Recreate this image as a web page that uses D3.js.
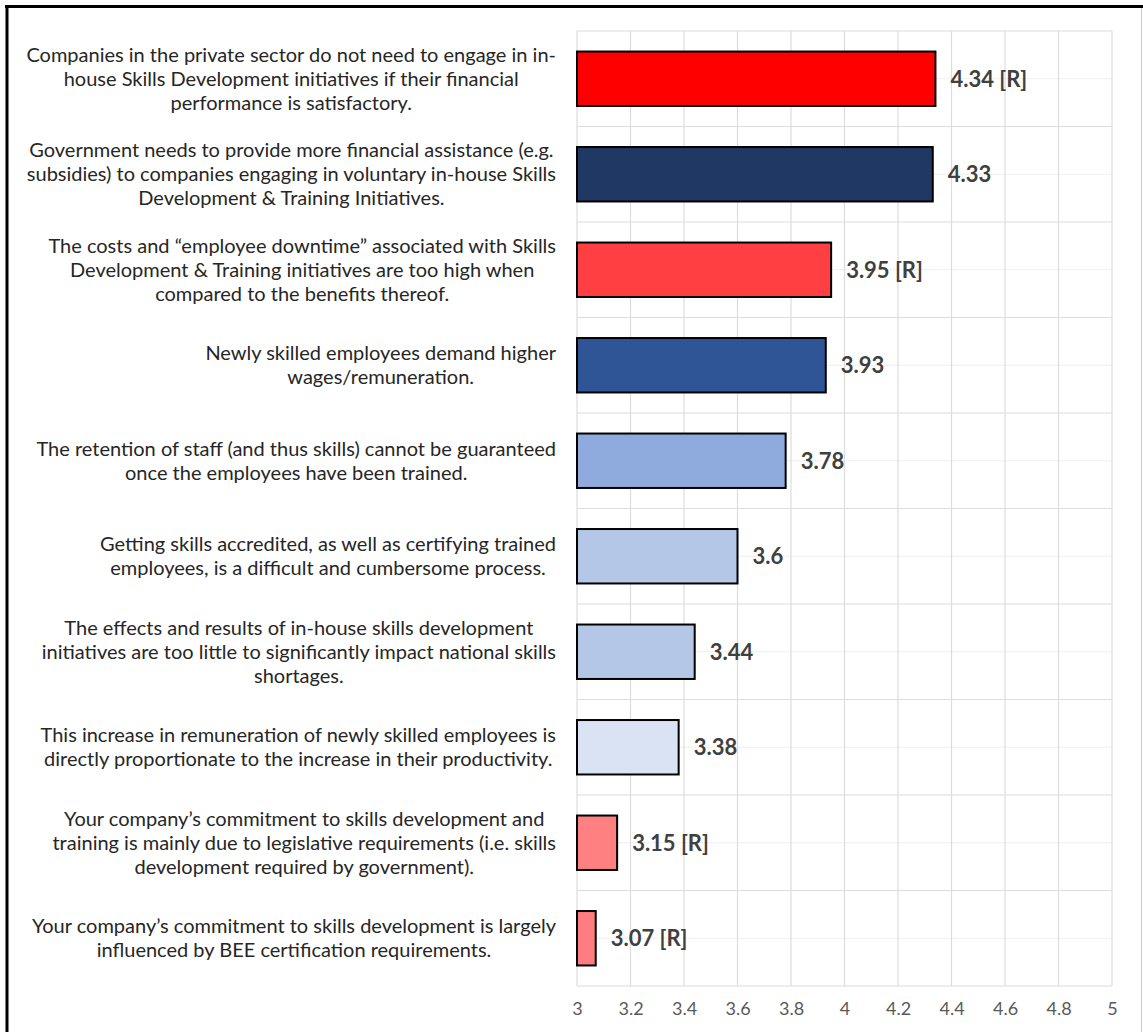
<!DOCTYPE html>
<html>
<head>
<meta charset="utf-8">
<script src="https://cdn.jsdelivr.net/npm/d3@7/dist/d3.min.js"></script>
<style>
  html, body { margin: 0; padding: 0; background: #fff; }
  svg { display: block; }
</style>
</head>
<body>
<svg id="chart" width="1143" height="1032"></svg>
<script>
// Statements (each split into its display lines)
const categories = [
  ["Companies in the private sector do not need to engage in in-", "house Skills Development initiatives if their financial", "performance is satisfactory."],
  ["Government needs to provide more financial assistance (e.g.", "subsidies) to companies engaging in voluntary in-house Skills", "Development & Training Initiatives."],
  ["The costs and \u201cemployee downtime\u201d associated with Skills", "Development & Training initiatives are too high when", "compared to the benefits thereof."],
  ["Newly skilled employees demand higher", "wages/remuneration."],
  ["The retention of staff (and thus skills) cannot be guaranteed", "once the employees have been trained."],
  ["Getting skills accredited, as well as certifying trained", "employees, is a difficult and cumbersome process."],
  ["The effects and results of in-house skills development", "initiatives are too little to significantly impact national skills", "shortages."],
  ["This increase in remuneration of newly skilled employees is", "directly proportionate to the increase in their productivity."],
  ["Your company\u2019s commitment to skills development and", "training is mainly due to legislative requirements (i.e. skills", "development required by government)."],
  ["Your company\u2019s commitment to skills development is largely", "influenced by BEE certification requirements."]
];

// Mean scores
const values = [4.34, 4.33, 3.95, 3.93, 3.78, 3.6, 3.44, 3.38, 3.15, 3.07];

// Reverse-scored items are tagged [R]
const reversed = [true, false, true, false, false, false, false, false, true, true];

const barColors = ["#FF0000", "#203864", "#FF3F41", "#2F5597", "#8FAADC", "#B4C7E7", "#B4C7E7", "#DAE3F3", "#FF8080", "#FF7C80"];

const xTicks = [3, 3.2, 3.4, 3.6, 3.8, 4, 4.2, 4.4, 4.6, 4.8, 5];

const svg = d3.select("#chart");

const plot = { left: 577, right: 1112, top: 31, bottom: 986 };

const x = d3.scaleLinear().domain([3, 5]).range([plot.left, plot.right]);
const y = d3.scaleBand()
  .domain(d3.range(categories.length))
  .range([plot.top, plot.bottom])
  .paddingInner(0.43)
  .paddingOuter(0.215);

// Category boundaries and centres for the horizontal grid
const step = (plot.bottom - plot.top) / categories.length;
const bounds = d3.range(categories.length + 1).map(i => plot.top + i * step);
const centres = d3.range(categories.length).map(i => plot.top + (i + 0.5) * step);

const grid = svg.append("g");
grid.selectAll("line.minor").data(centres).join("line")
  .attr("x1", plot.left).attr("x2", plot.right)
  .attr("y1", d => d).attr("y2", d => d)
  .attr("stroke", "#efefef").attr("stroke-width", 1);
grid.selectAll("line.major").data(bounds).join("line")
  .attr("x1", plot.left).attr("x2", plot.right)
  .attr("y1", d => d).attr("y2", d => d)
  .attr("stroke", "#dcdcdc").attr("stroke-width", 1.2);
grid.selectAll("line.vert").data(xTicks).join("line")
  .attr("x1", d => x(d)).attr("x2", d => x(d))
  .attr("y1", plot.top).attr("y2", plot.bottom)
  .attr("stroke", "#dcdcdc").attr("stroke-width", 1.2);

// Bars
svg.append("g").selectAll("rect").data(values).join("rect")
  .attr("x", x(3))
  .attr("y", (d, i) => y(i))
  .attr("width", d => x(d) - x(3))
  .attr("height", y.bandwidth())
  .attr("fill", (d, i) => barColors[i])
  .attr("stroke", "#000")
  .attr("stroke-width", 2);

// Value labels
svg.append("g").selectAll("text").data(values).join("text")
  .attr("x", d => x(d) + 15)
  .attr("y", (d, i) => y(i) + y.bandwidth() / 2)
  .attr("dy", "0.36em")
  .attr("font-family", "Lato, sans-serif")
  .attr("font-weight", 700)
  .attr("font-size", 22)
  .attr("fill", "#404040")
  .text((d, i) => d + (reversed[i] ? " [R]" : ""));

// X axis tick labels
const xAxis = d3.axisBottom(x).tickValues(xTicks).tickSize(0).tickPadding(16)
  .tickFormat(d3.format("~g"));
const gx = svg.append("g").attr("transform", `translate(0,${plot.bottom})`).call(xAxis);
gx.select(".domain").remove();
gx.selectAll("text")
  .attr("font-family", "Lato, sans-serif")
  .attr("font-size", 18)
  .attr("fill", "#595959");

// Category labels: lines centred within a block aligned to the plot's left edge
const labelRight = 556;
const lineH = 24;
const labels = svg.append("g");
categories.forEach((lines, i) => {
  const cy = centres[i];
  const t = labels.append("text")
    .attr("font-family", "Lato, sans-serif")
    .attr("font-size", 20)
    .attr("fill", "#262626")
    .attr("text-anchor", "middle");
  const spans = lines.map((ln, k) => t.append("tspan")
    .attr("y", cy + (k - (lines.length - 1) / 2) * lineH)
    .attr("dy", "0.35em")
    .text(ln));
  const maxW = d3.max(spans, s => s.node().getComputedTextLength());
  spans.forEach(s => s.attr("x", labelRight - maxW / 2));
});

// Frame
svg.append("line").attr("x1", 5).attr("x2", 1143).attr("y1", 6.5).attr("y2", 6.5)
  .attr("stroke", "#000").attr("stroke-width", 3);
svg.append("line").attr("x1", 7).attr("x2", 7).attr("y1", 5).attr("y2", 1032)
  .attr("stroke", "#000").attr("stroke-width", 3);
svg.append("line").attr("x1", 1141.5).attr("x2", 1141.5).attr("y1", 8).attr("y2", 1032)
  .attr("stroke", "#c8c8c8").attr("stroke-width", 1);
</script>
</body>
</html>
